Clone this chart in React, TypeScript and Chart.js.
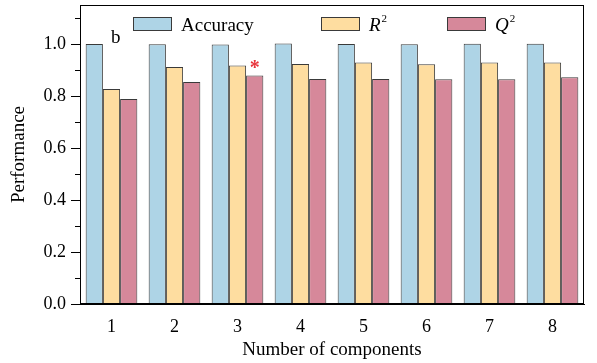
import React, { useEffect, useRef } from "react";
import { Chart, registerables } from "chart.js";

Chart.register(...registerables);

const categories = ["1", "2", "3", "4", "5", "6", "7", "8"];
const accuracy = [1.0, 0.999, 0.998, 1.002, 1.0, 0.999, 1.001, 1.001];
const r2 = [0.827, 0.912, 0.917, 0.923, 0.929, 0.922, 0.929, 0.929];
const q2 = [0.788, 0.854, 0.879, 0.865, 0.865, 0.864, 0.864, 0.872];
const yTickValues = [0, 0.1, 0.2, 0.3, 0.4, 0.5, 0.6, 0.7, 0.8, 0.9, 1.0, 1.1];

const FONT = '"Liberation Serif", "Times New Roman", serif';
const BLUE = "#AED4E6";
const YELLOW = "#FEDDA0";
const PINK = "#D6889A";
const EDGE = "#3a3a3a";

const framePlugin = {
  id: "frameAndExtras",
  afterDraw(chart: any) {
    const { ctx, chartArea } = chart;
    const ys = chart.scales.y;
    ctx.save();
    // frame
    ctx.strokeStyle = "#000";
    ctx.lineWidth = 1;
    ctx.strokeRect(
      Math.round(chartArea.left) + 0.5,
      Math.round(chartArea.top) + 0.5,
      Math.round(chartArea.right - chartArea.left) - 1,
      Math.round(chartArea.bottom - chartArea.top) - 1
    );
    // y ticks (major + minor)
    yTickValues.forEach((v, i) => {
      const y = Math.round(ys.getPixelForValue(v)) + 0.5;
      const len = i % 2 === 0 ? 9 : 5;
      const x0 = Math.round(chartArea.left);
      ctx.beginPath();
      ctx.moveTo(x0 - len, y);
      ctx.lineTo(x0 + 0.5, y);
      ctx.stroke();
    });
    // legend
    const items = [
      { x: 133, color: BLUE, label: "Accuracy", italic: false, sup: "" },
      { x: 321, color: YELLOW, label: "R", italic: true, sup: "2" },
      { x: 447, color: PINK, label: "Q", italic: true, sup: "2" },
    ];
    items.forEach((it) => {
      ctx.fillStyle = it.color;
      ctx.fillRect(it.x, 17, 38, 13);
      ctx.strokeStyle = EDGE;
      ctx.lineWidth = 1;
      ctx.strokeRect(it.x + 0.5, 17.5, 38, 13);
      ctx.fillStyle = "#000";
      ctx.textBaseline = "alphabetic";
      ctx.textAlign = "left";
      ctx.font = `${it.italic ? "italic " : ""}19px ${FONT}`;
      const tx = it.x + 48;
      ctx.fillText(it.label, tx, 31);
      if (it.sup) {
        const w = ctx.measureText(it.label).width;
        ctx.font = `11px ${FONT}`;
        ctx.fillText(it.sup, tx + w + 1, 22);
      }
    });
    // panel letter
    ctx.fillStyle = "#000";
    ctx.font = `19px ${FONT}`;
    ctx.textAlign = "left";
    ctx.fillText("b", 111, 43);
    // red asterisk over the best Q2 bar
    const meta = chart.getDatasetMeta(2);
    const bar = meta.data[2];
    ctx.fillStyle = "#E8333B";
    ctx.font = `bold 20px ${FONT}`;
    ctx.textAlign = "center";
    ctx.fillText("*", bar.x, bar.y - 1);
    ctx.restore();
  },
};

export default function App() {
  const ref = useRef<HTMLCanvasElement | null>(null);
  useEffect(() => {
    document.body.style.margin = "0";
    const canvas = ref.current;
    if (!canvas) return;
    const ds = (label: string, data: number[], color: string) => ({
      label,
      data,
      backgroundColor: color,
      borderColor: EDGE,
      borderWidth: 1,
      categoryPercentage: 0.82,
      barPercentage: 1.0,
    });
    const chart = new Chart(canvas, {
      type: "bar",
      data: {
        labels: categories,
        datasets: [ds("Accuracy", accuracy, BLUE), ds("R2", r2, YELLOW), ds("Q2", q2, PINK)],
      },
      options: {
        animation: false,
        responsive: false,
        maintainAspectRatio: false,
        events: [],
        layout: { padding: { left: 0, right: 13, top: 5, bottom: 0 } },
        plugins: { legend: { display: false }, tooltip: { enabled: false } },
        scales: {
          x: {
            grid: { display: false, drawTicks: false },
            border: { display: true, color: "#000", width: 1 },
            ticks: { color: "#000", font: { family: FONT, size: 18 }, padding: 12 },
            title: {
              display: true,
              text: "Number of components",
              color: "#000",
              font: { family: FONT, size: 19 },
              padding: { top: 0, bottom: 2 },
            },
            afterFit: (s: any) => {
              s.height = 59;
              s.paddingLeft = 0;
              s.paddingRight = 0;
            },
          },
          y: {
            min: 0,
            max: 1.15,
            grid: { display: false, drawTicks: false },
            border: { display: true, color: "#000", width: 1 },
            ticks: {
              stepSize: 0.1,
              color: "#000",
              font: { family: FONT, size: 18 },
              padding: 14,
              autoSkip: false,
              callback: (v: any) => {
                const n = Math.round(Number(v) * 100);
                if (n % 20 === 0 && n <= 100) return (n / 100).toFixed(1);
                return "";
              },
            },
            title: {
              display: true,
              text: "Performance",
              color: "#000",
              font: { family: FONT, size: 19 },
              padding: { top: 8, bottom: 0 },
            },
            afterFit: (s: any) => {
              s.width = 80;
              s.paddingTop = 0;
              s.paddingBottom = 0;
            },
          },
        },
      },
      plugins: [framePlugin],
    });
    return () => chart.destroy();
  }, []);
  return (
    <div style={{ width: 597, height: 363 }}>
      <canvas ref={ref} width={597} height={363} style={{ display: "block" }} />
    </div>
  );
}
